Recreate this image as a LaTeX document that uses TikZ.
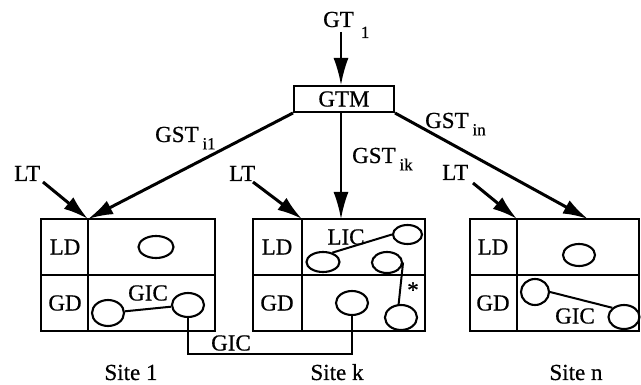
\documentclass[tikz,border=0pt]{standalone}
\usepackage{fontspec}
\setmainfont{Liberation Serif}[FakeBold=0.6]
\usetikzlibrary{arrows.meta,shapes.geometric}
\newcommand\sbs[1]{\raisebox{-0.32em}{\fontsize{17}{17}\selectfont #1}}
\begin{document}
\begin{tikzpicture}[x=1pt,y=-1pt,
  font=\fontsize{23}{25}\selectfont,
  box/.style={line width=2.1pt},
  ell/.style={ellipse, draw, line width=2.1pt, inner sep=0pt},
  bigarrow/.style={line width=3pt, -{Latex[length=25pt,width=15pt]}},
  thinarrow/.style={line width=2pt, -{Latex[length=27pt,width=15pt]}},
  link/.style={line width=2pt},
  txt/.style={inner sep=0pt}]
\useasboundingbox (0,0) rectangle (641,385);

% ---- GTM and global transaction
\node[draw, line width=2pt, minimum width=100pt, minimum height=26pt, inner sep=0pt] (gtm) at (344,99) {GTM};
\node[txt, anchor=base west] (gt) at (323,27) {GT\raisebox{-11pt}{\fontsize{17}{17}\selectfont\hspace{7pt}1}};
\coordinate (gtstart) at (341,32);
\draw[thinarrow] (gtstart) -- (gtstart |- gtm.north);

% ---- site boxes
% Site 1
\draw[box] (41,219) rectangle (215,331);
\draw[box] (88,219) -- (88,331);
\draw[box] (41,275) -- (215,275);
\coordinate (s1) at (88,219);
\node[txt] (ld1) at (65,247) {LD};
\node[txt] (gd1) at (65,303) {GD};
% Site k
\draw[box] (253,219) rectangle (425,331);
\draw[box] (302,219) -- (302,331);
\draw[box] (253,275) -- (425,275);
\coordinate (sk) at (302,219);
\node[txt] (ldk) at (277,247) {LD};
\node[txt] (gdk) at (277,303) {GD};
% Site n
\draw[box] (470,219) rectangle (639,331);
\draw[box] (517,219) -- (517,331);
\draw[box] (470,275) -- (639,275);
\coordinate (sn) at (517,219);
\coordinate (snt) at (588,219);
\node[txt] (ldn) at (493,247) {LD};
\node[txt] (gdn) at (493,303) {GD};

% ---- GST arrows
\coordinate (skt) at (341,219);
\draw[bigarrow] (gtm.south west) -- (s1);
\draw[thinarrow] (gtm.south -| skt) -- (skt);
\draw[bigarrow] (gtm.south east) -- (snt);
\node[txt, anchor=base west] (gst1) at (155,142) {GST\,\sbs{i1}};
\node[txt, anchor=base west] (gstk) at (352,163) {GST\,\sbs{ik}};
\node[txt, anchor=base west] (gstn) at (425,128) {GST\,\sbs{in}};

% ---- LT arrows
\coordinate (lt1s) at (43,182);
\coordinate (ltks) at (253,182);
\coordinate (ltns) at (473,183);
\draw[bigarrow] (lt1s) -- (s1);
\draw[bigarrow] (ltks) -- (sk);
\draw[bigarrow] (ltns) -- (sn);
\node[txt, anchor=base west] (lt1) at (14,181) {LT};
\node[txt, anchor=base west] (ltk) at (229,181) {LT};
\node[txt, anchor=base west] (ltn) at (442,180) {LT};

% ---- Site 1 contents
\node[ell, minimum width=35pt, minimum height=22pt] (e1a) at (156,247) {};
\node[ell, minimum width=32pt, minimum height=26pt] (e1b) at (108,313) {};
\node[ell, minimum width=32pt, minimum height=24pt] (e1c) at (188,305) {};
\draw[link] (e1b) -- (e1c);
\node[txt] (gic1) at (148,293) {GIC};

% ---- Site k contents
\node[ell, minimum width=33pt, minimum height=20pt] (eka) at (323,262) {};
\node[ell, minimum width=29pt, minimum height=19pt] (ekb) at (407.5,234.5) {};
\node[ell, minimum width=30pt, minimum height=21pt] (ekc) at (387,262.5) {};
\node[ell, minimum width=32pt, minimum height=24pt] (ekd) at (352,303) {};
\node[ell, minimum width=32pt, minimum height=25pt] (eke) at (401,317.5) {};
\draw[link] (eka.45) -- (ekb.west);
\node[txt] (lic) at (346,237) {LIC};
\draw[link] (ekc.east) -- (eke.100);
\node[txt] (star) at (413,290) {*};

% ---- Site n contents
\node[ell, minimum width=32pt, minimum height=22pt] (ena) at (579,255) {};
\node[ell, minimum width=28pt, minimum height=26pt] (enb) at (535,292) {};
\node[ell, minimum width=31pt, minimum height=24pt] (enc) at (624,317) {};
\draw[link] (enb.east) -- (enc.north west);
\node[txt] (gicn) at (575,316) {GIC};

% ---- inter-site GIC connector
\coordinate (gicbot) at (0,354);
\draw[link] (ekd.south) -- (ekd.south |- gicbot) -| (e1c.south);
\node[txt] (gicx) at (231,343) {GIC};

% ---- site labels
\node[txt, anchor=base] (site1) at (131,380) {Site 1};
\node[txt, anchor=base] (sitek) at (337,380) {Site k};
\node[txt, anchor=base] (siten) at (576,380) {Site n};
\end{tikzpicture}
\end{document}
